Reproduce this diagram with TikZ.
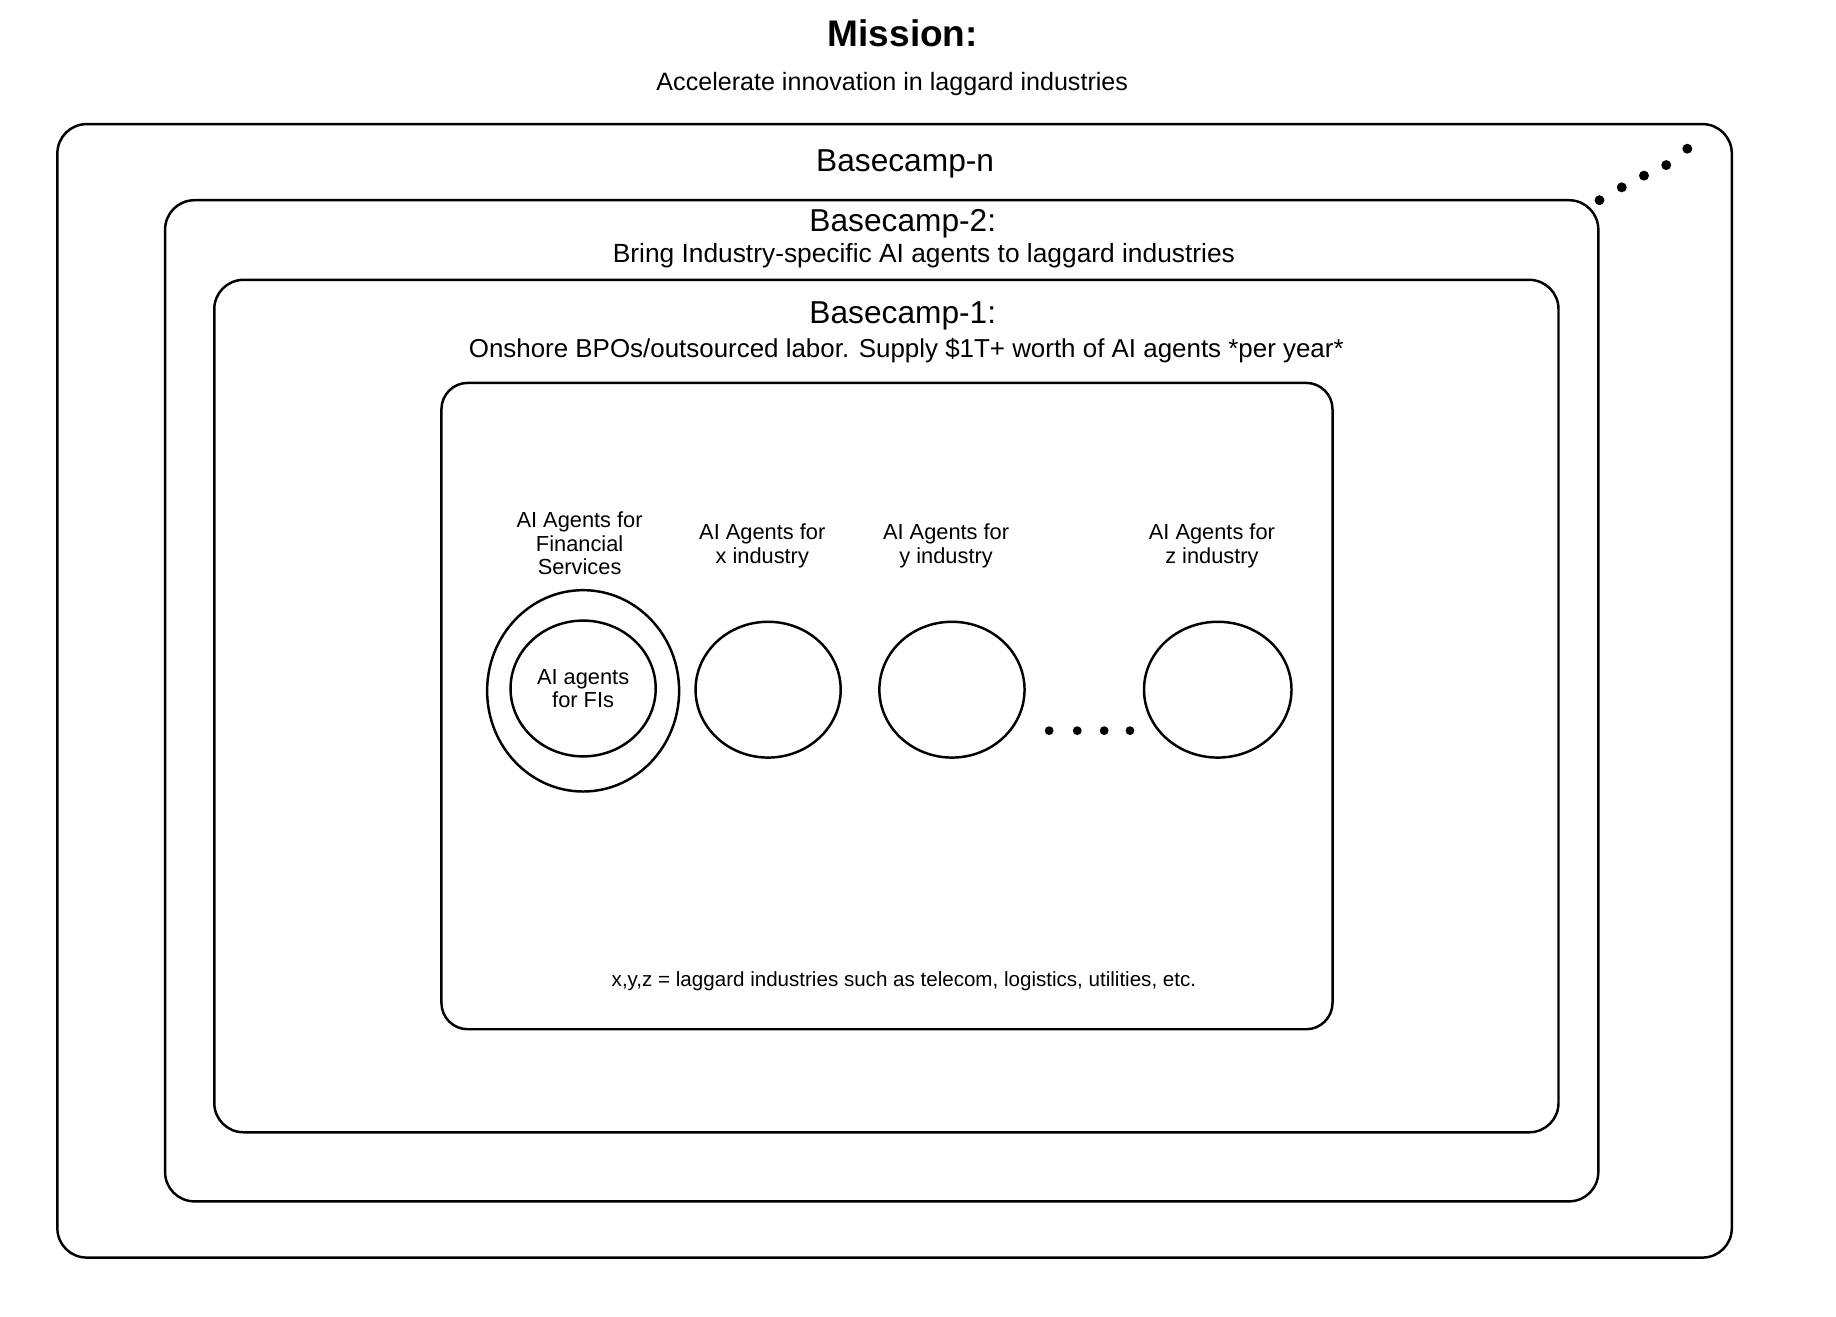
\documentclass[tikz,border=0pt]{standalone}
\usepackage{fontspec}
\setmainfont{Liberation Sans}
\usetikzlibrary{shapes.geometric}

\begin{document}
\begin{tikzpicture}[x=0.02cm,y=-0.02cm,
  box/.style={line width=1.2pt,rounded corners=0.5cm},
  agent/.style={draw,ellipse,line width=1.2pt,inner sep=0pt,align=center,
    minimum width=2.48cm,minimum height=2.32cm},
  lbl/.style={align=center,font=\fontsize{10.6}{11.5}\selectfont},
  head/.style={font=\fontsize{15.4}{19}\selectfont},
  sub/.style={font=\fontsize{12.6}{14}\selectfont}]

\useasboundingbox (0,0) rectangle (1568,1124);

\node[font=\bfseries\fontsize{18}{21}\selectfont] (mission) at (771,28) {Mission:};
\node[font=\fontsize{12.2}{14}\selectfont] (missiontxt) at (762,72) {Accelerate innovation in laggard industries};

\draw[box] (49,106) rectangle (1479,1074);
\node[head] (campn) at (773,140) {Basecamp-n};
\foreach \x/\y in {1366/171,1385/160,1404/150,1423/141,1441/127}
  \fill (\x,\y) circle[radius=0.085cm];

\draw[box] (141,171) rectangle (1365,1026);
\node[head] (camptwo) at (771,191) {Basecamp-2:};
\node[sub,font=\fontsize{12.8}{14}\selectfont] (camptwotxt) at (789,218) {Bring Industry-specific AI agents to laggard industries};

\draw[box] (183,239) rectangle (1331,967);
\node[head] (campone) at (771,270) {Basecamp-1:};
\node[sub] (componetxt) at (774,299) {Onshore BPOs/outsourced labor. Supply \$1T+ worth of AI agents *per year*};

\draw[box,rounded corners=0.45cm] (377,327) rectangle (1138,879);

\node[agent,minimum width=3.28cm,minimum height=3.44cm] (fsouter) at (498,590) {};
\node[agent,lbl] (fsinner) at (498,588) {AI agents\\for FIs};
\node[agent] (xagent) at (656,589) {};
\node[agent] (yagent) at (813,589) {};
\node[agent,minimum width=2.52cm] (zagent) at (1040,589) {};

\node[lbl] (fslbl) at (495,464) {AI Agents for\\Financial\\Services};
\node[lbl] (xlbl) at (651,466) {AI Agents for\\x industry};
\node[lbl] (ylbl) at (808,466) {AI Agents for\\y industry};
\node[lbl] (zlbl) at (1035,466) {AI Agents for\\z industry};

\foreach \x in {896,920,943,965}
  \fill (\x,624) circle[radius=0.075cm];

\node[font=\fontsize{10}{12}\selectfont] (note) at (772,838) {x,y,z = laggard industries such as telecom, logistics, utilities, etc.};
\end{tikzpicture}
\end{document}
